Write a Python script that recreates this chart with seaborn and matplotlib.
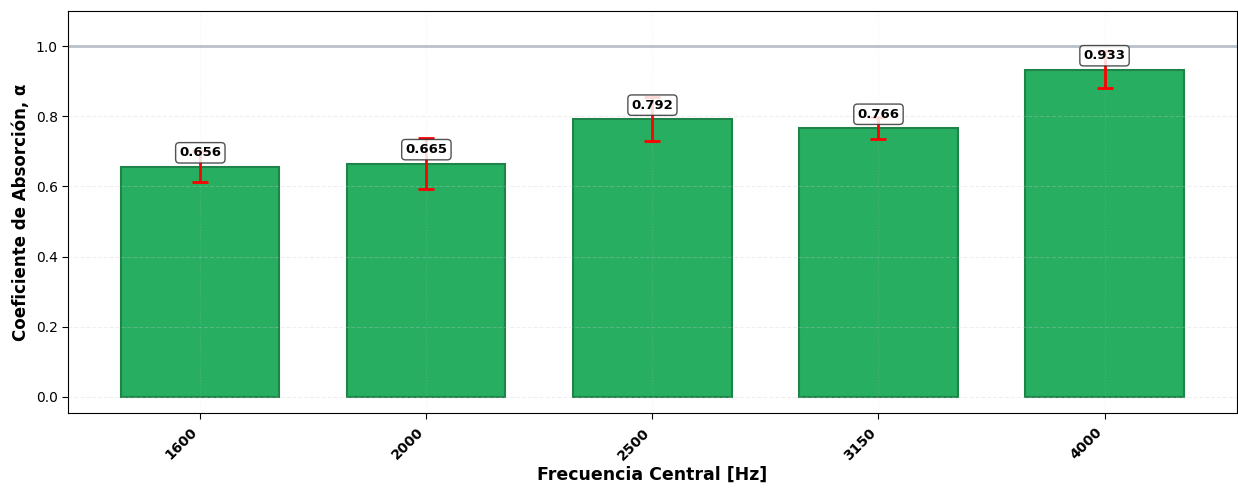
import matplotlib
matplotlib.use("Agg")
import matplotlib.pyplot as plt
import seaborn as sns
import numpy as np

# Octave-band centre frequencies and measured absorption coefficients
frecuencias = ["1600", "2000", "2500", "3150", "4000"]
alpha_medio = [0.656, 0.665, 0.792, 0.766, 0.933]
desviacion = [0.044, 0.072, 0.063, 0.031, 0.053]

sns.set_style("white")
plt.rcParams["font.family"] = ["DejaVu Sans"]
plt.rcParams.update({"text.color": "black", "axes.labelcolor": "black",
                     "xtick.color": "black", "ytick.color": "black"})

fig, ax = plt.subplots(figsize=(12.38, 4.88), dpi=100)
fig.subplots_adjust(left=0.055, right=0.999, top=0.977, bottom=0.154)

sns.barplot(x=frecuencias, y=alpha_medio, color="#27ae60", saturation=1,
            edgecolor="#1e8449", linewidth=1.5, width=0.7, ax=ax, zorder=1)

pos = np.arange(len(frecuencias))
ax.errorbar(pos, alpha_medio, yerr=desviacion, fmt="none", ecolor="red",
            elinewidth=2, capsize=6, capthick=2, zorder=3)

for x, v in zip(pos, alpha_medio):
    ax.text(x, v + 0.04, f"{v:.3f}", ha="center", va="center",
            fontsize=9.5, fontweight="bold", color="black", zorder=5,
            bbox=dict(boxstyle="round,pad=0.28", facecolor="white",
                      edgecolor="#333333", alpha=0.85))

ax.axhline(1.0, color="#8a96a8", linewidth=2, alpha=0.6, zorder=2)

ax.set_ylim(-0.046, 1.1)
ax.set_xlim(-0.585, 4.585)
ax.set_xlabel("Frecuencia Central [Hz]", fontsize=12.5, fontweight="bold",
              labelpad=2)
ax.set_ylabel("Coeficiente de Absorción, α", fontsize=12, fontweight="bold")
ax.tick_params(axis="y", labelsize=10, left=True, length=4)
ax.tick_params(axis="x", labelsize=10, bottom=True, length=4, pad=5)
plt.setp(ax.get_xticklabels(), rotation=45, ha="right", fontweight="bold")

ax.grid(True, axis="y", linestyle="--", alpha=0.3, zorder=1.5)
ax.grid(True, axis="x", linestyle=":", alpha=0.2, zorder=1.5)
ax.set_axisbelow(False)
for s in ax.spines.values():
    s.set_visible(True)
    s.set_color("black")
    s.set_linewidth(0.8)

fig.savefig("out.png", dpi=100)
